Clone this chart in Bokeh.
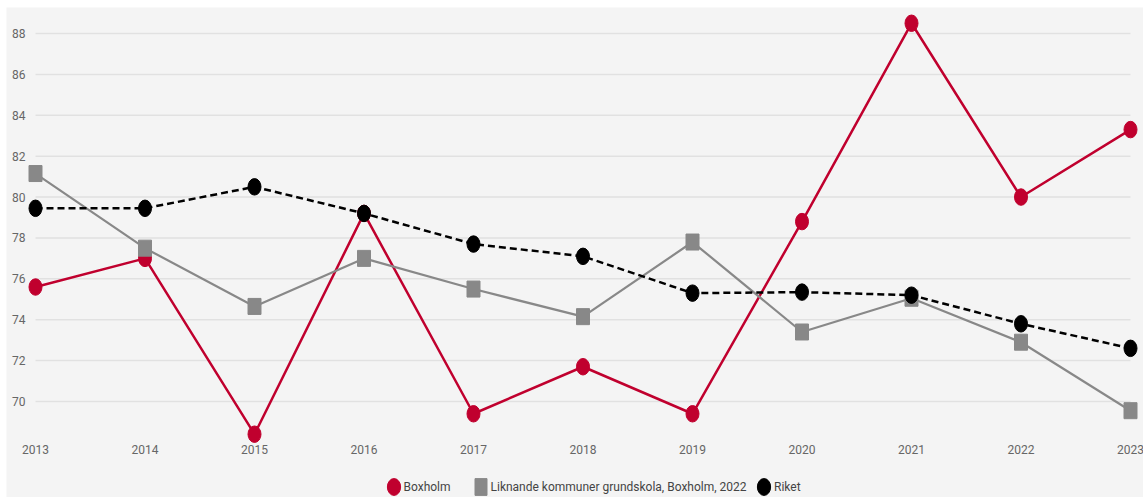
from bokeh.plotting import figure
from bokeh.models import Range1d, Legend, LegendItem
from bokeh.core.properties import value
from bokeh.embed import file_html
from bokeh.resources import INLINE

years = [2013, 2014, 2015, 2016, 2017, 2018, 2019, 2020, 2021, 2022, 2023]
boxholm = [75.6, 77.0, 68.4, 79.2, 69.4, 71.7, 69.4, 78.8, 88.5, 80.0, 83.3]
liknande = [81.15, 77.5, 74.65, 77.0, 75.5, 74.15, 77.8, 73.4, 75.05, 72.9, 69.55]
riket = [79.45, 79.45, 80.5, 79.2, 77.7, 77.1, 75.3, 75.35, 75.2, 73.8, 72.6]
y_ticks = [70, 72, 74, 76, 78, 80, 82, 84, 86, 88]
year_labels = [str(y) for y in years]
y_tick_labels = [str(t) for t in y_ticks]

label_boxholm = "Boxholm"
label_liknande = "Liknande kommuner grundskola, Boxholm, 2022"
label_riket = "Riket"

RED = "#c0002e"
GRAY = "#888888"
BLACK = "#000000"
BG = "#f4f4f4"
FONT = "Roboto"
TXT = "#666666"

px_per_year = 109.5
x_range = Range1d(years[0] - 29 / px_per_year, years[-1] + 13 / px_per_year)
px_per_unit = 20.444
y_range = Range1d(70 - 96 / px_per_unit, 88 + 26 / px_per_unit)
x_label_y = 70 - 48 / px_per_unit

p = figure(width=1137, height=490, x_range=x_range, y_range=y_range,
           output_backend="svg", toolbar_location=None, title=None,
           min_border_left=0, min_border_right=0, min_border_top=0,
           min_border_bottom=0, margin=(7, 0, 0, 6))
p.background_fill_color = BG
p.border_fill_color = BG
p.outline_line_color = None
p.xgrid.visible = False
p.ygrid.visible = False
p.xaxis.visible = False
p.yaxis.visible = False

# grid lines spanning first to last year
p.segment(x0=[years[0]] * len(y_ticks), x1=[years[-1]] * len(y_ticks),
          y0=y_ticks, y1=y_ticks, line_color="#e1e1e1", line_width=1.5)

# y tick labels
p.text(x=[years[0]] * len(y_ticks), y=y_ticks, text=y_tick_labels,
       x_offset=-10, text_font=value(FONT), text_font_size="12px",
       text_color=TXT, text_align="right", text_baseline="middle")

# x tick labels
p.text(x=years, y=[x_label_y] * len(years), text=year_labels,
       text_font=value(FONT), text_font_size="12px", text_color=TXT,
       text_align="center", text_baseline="middle")

# Boxholm
p.line(years, boxholm, line_color=RED, line_width=2.5)
r_box = p.ellipse(years, boxholm, width=13, height=16.5, width_units="screen",
                  height_units="screen", fill_color=RED, line_color=RED)
# Liknande
p.line(years, liknande, line_color=GRAY, line_width=2.2)
r_lik = p.rect(years, liknande, width=13, height=16, width_units="screen",
               height_units="screen", fill_color=GRAY, line_color=GRAY)
# Riket
p.line(years, riket, line_color=BLACK, line_width=2.5, line_dash="7 4")
r_rik = p.ellipse(years, riket, width=13, height=16.5, width_units="screen",
                  height_units="screen", fill_color=BLACK, line_color=BLACK)


def add_legend(label, renderer, x, gw, gh, standoff):
    lg = Legend(items=[LegendItem(label=label, renderers=[renderer])],
                location=(x, 0), orientation="horizontal",
                glyph_width=gw, glyph_height=gh, label_standoff=standoff,
                padding=0, margin=0, spacing=0,
                border_line_color=None, background_fill_alpha=0,
                label_text_font=FONT, label_text_font_size="12px",
                label_text_color="#444444", label_height=21)
    p.add_layout(lg, "center")


add_legend(label_boxholm, r_box, 376.5, 21, 21, 0)
add_legend(label_liknande, r_lik, 466.5, 15, 21, 3)
add_legend(label_riket, r_rik, 747, 21, 21, 0)

open("out.html", "w").write(file_html(p, INLINE))
